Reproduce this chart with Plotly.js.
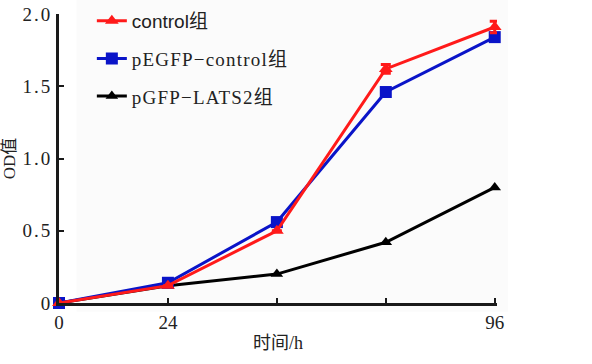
<!DOCTYPE html>
<html><head><meta charset="utf-8">
<script src="https://cdn.plot.ly/plotly-3.0.1.min.js"></script>
<style>
html,body{margin:0;padding:0;background:#fff}
.legendtext{letter-spacing:1.2px}
.ytick text{letter-spacing:2px}
</style>
</head><body>
<div id="chart" style="width:592px;height:364px"></div>
<script>
const hours = [0, 24, 48, 72, 96];
const xTickVals = [0, 24, 48, 72, 96];
const xTickText = ['0', '24', '', '', '96'];
const yTickVals = [0, 0.5, 1.0, 1.5, 2.0];
const yTickText = ['0', '0.5', '1.0', '1.5', '2.0'];
const controlOD = [0, 0.12, 0.50, 1.62, 1.91];
const controlErr = [0, 0, 0, 0.03, 0.04];
const pegfpControlOD = [0, 0.14, 0.56, 1.46, 1.84];
const lats2OD = [0, 0.12, 0.20, 0.42, 0.80];
const names = ['<span style="font-family:Liberation Sans;letter-spacing:0px">control</span>组', 'pEGFP−control组', 'pGFP−LATS2组'];

const serif = 'Liberation Serif, Noto Sans CJK SC, serif';
const red = {x: hours, y: controlOD, name: names[0], legendgroup: 'a', legendrank: 1, mode: 'lines+markers',
   line: {color: '#ff1a1a', width: 3}, marker: {symbol: 'triangle-up', size: 12, color: '#ff1a1a'},
   error_y: {type: 'data', array: controlErr, visible: true, color: '#ff1a1a', thickness: 3, width: 5},
   cliponaxis: false};
const blue = {x: hours, y: pegfpControlOD, name: names[1], legendgroup: 'b', legendrank: 2, mode: 'lines+markers',
   line: {color: '#0a14c8', width: 3}, marker: {symbol: 'square', size: 12, color: '#0a14c8'},
   cliponaxis: false};
const black = {x: hours, y: lats2OD, name: names[2], legendgroup: 'c', legendrank: 3, mode: 'lines+markers',
   line: {color: '#000', width: 3}, marker: {symbol: 'triangle-up', size: 11, color: '#000'},
   cliponaxis: false};
const data = [black, blue, red];

const layout = {
  width: 592, height: 364,
  margin: {l: 59, r: 95, t: 14, b: 61, autoexpand: false},
  paper_bgcolor: '#fff', plot_bgcolor: 'rgba(0,0,0,0)',
  font: {family: serif, color: '#222', size: 19},
  showlegend: true,
  legend: {x: 0.075, y: 1.042, xanchor: 'left', yanchor: 'top', bgcolor: 'rgba(0,0,0,0)',
           font: {family: serif, size: 19, color: '#222'}, tracegroupgap: 10, traceorder: 'grouped',
           itemwidth: 30},
  xaxis: {range: [0, 96.5], tickvals: xTickVals, ticktext: xTickText, showgrid: false, zeroline: false,
          showline: true, linecolor: '#1a1a1a', linewidth: 3, ticks: 'inside', ticklen: 5, tickwidth: 2,
          tickcolor: '#1a1a1a', tickfont: {family: serif, size: 19, color: '#222'},
          title: {text: '时间/h', font: {family: serif, size: 18, color: '#222'}, standoff: 5}},
  yaxis: {range: [0, 2.0], tickvals: yTickVals, ticktext: yTickText, showgrid: false, zeroline: false,
          showline: true, linecolor: '#1a1a1a', linewidth: 3, ticks: 'inside', ticklen: 5, tickwidth: 2,
          tickcolor: '#1a1a1a', tickfont: {family: serif, size: 19, color: '#222'},
          title: {text: 'OD值', font: {family: serif, size: 17, color: '#222'}, standoff: 4}},
  shapes: [{type: 'rect', xref: 'paper', yref: 'paper', x0: 0.04, x1: 1.025, y0: -0.03, y1: 1.05,
            fillcolor: '#fbfbfb', line: {width: 0}, layer: 'below'}]
};
Plotly.newPlot('chart', data, layout, {displayModeBar: false, staticPlot: true});
</script>
</body></html>
